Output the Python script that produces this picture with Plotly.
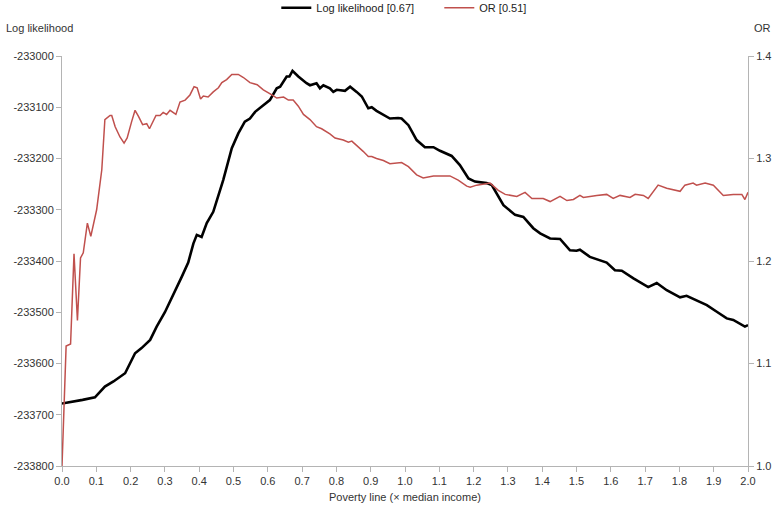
import plotly.graph_objects as go

# Log likelihood series (black)
ll_x = [0.0, 0.03, 0.06, 0.096, 0.125, 0.15, 0.184, 0.213, 0.232, 0.257,
        0.276, 0.3, 0.315, 0.334, 0.349, 0.368, 0.383, 0.393, 0.407, 0.422,
        0.441, 0.47, 0.495, 0.514, 0.533, 0.548, 0.563, 0.587, 0.606, 0.626,
        0.636, 0.655, 0.663, 0.672, 0.689, 0.713, 0.723, 0.742, 0.752, 0.762,
        0.781, 0.791, 0.801, 0.825, 0.84, 0.859, 0.874, 0.893, 0.903, 0.917,
        0.937, 0.956, 0.98, 0.99, 1.01, 1.034, 1.058, 1.083, 1.102, 1.136,
        1.16, 1.185, 1.204, 1.238, 1.253, 1.267, 1.287, 1.321, 1.345, 1.374,
        1.394, 1.423, 1.452, 1.481, 1.5, 1.51, 1.539, 1.588, 1.612, 1.632,
        1.666, 1.709, 1.734, 1.763, 1.802, 1.821, 1.85, 1.88, 1.909, 1.938,
        1.957, 1.982, 1.991, 2.0]
ll_y = [-233678, -233675, -233671, -233666, -233645, -233635, -233619, -233580, -233570, -233554,
        -233528, -233500, -233479, -233455, -233431, -233403, -233366, -233349, -233353, -233326,
        -233304, -233242, -233180, -233151, -233128, -233122, -233109, -233096, -233086, -233063,
        -233060, -233040, -233040, -233029, -233040, -233053, -233057, -233053, -233063, -233057,
        -233063, -233070, -233066, -233068, -233060, -233070, -233079, -233102, -233100, -233107,
        -233115, -233122, -233121, -233122, -233135, -233164, -233178, -233178, -233185, -233195,
        -233213, -233239, -233245, -233248, -233252, -233268, -233291, -233310, -233314, -233336,
        -233346, -233356, -233357, -233379, -233380, -233378, -233392, -233403, -233418, -233419,
        -233434, -233451, -233443, -233457, -233471, -233468, -233477, -233486, -233499, -233512,
        -233515, -233525, -233528, -233525]

# Odds ratio series (red)
or_x = [0.0, 0.012, 0.025, 0.035, 0.045, 0.054, 0.062, 0.074, 0.084, 0.101,
        0.116, 0.125, 0.14, 0.145, 0.155, 0.169, 0.181, 0.19, 0.203, 0.213,
        0.223, 0.235, 0.247, 0.255, 0.274, 0.286, 0.295, 0.305, 0.315, 0.332,
        0.344, 0.359, 0.373, 0.385, 0.394, 0.404, 0.412, 0.426, 0.441, 0.456,
        0.466, 0.48, 0.495, 0.504, 0.514, 0.529, 0.548, 0.569, 0.587, 0.612,
        0.626, 0.646, 0.66, 0.674, 0.689, 0.704, 0.723, 0.742, 0.757, 0.781,
        0.796, 0.82, 0.835, 0.845, 0.859, 0.878, 0.893, 0.903, 0.917, 0.937,
        0.956, 0.98, 0.99, 1.01, 1.034, 1.053, 1.083, 1.131, 1.155, 1.18,
        1.19, 1.209, 1.248, 1.272, 1.292, 1.326, 1.35, 1.37, 1.403, 1.423,
        1.452, 1.472, 1.491, 1.51, 1.52, 1.559, 1.588, 1.607, 1.627, 1.656,
        1.671, 1.695, 1.709, 1.738, 1.763, 1.802, 1.816, 1.84, 1.85, 1.875,
        1.899, 1.928, 1.957, 1.982, 1.991, 2.0]
or_y = [1.0, 1.117, 1.119, 1.207, 1.142, 1.203, 1.208, 1.237, 1.224, 1.250,
        1.289, 1.338, 1.342, 1.342, 1.331, 1.321, 1.315, 1.320, 1.336, 1.347,
        1.341, 1.333, 1.334, 1.329, 1.342, 1.342, 1.345, 1.343, 1.347, 1.343,
        1.355, 1.357, 1.362, 1.370, 1.369, 1.358, 1.361, 1.360, 1.365, 1.369,
        1.374, 1.377, 1.382, 1.382, 1.382, 1.379, 1.374, 1.372, 1.367, 1.362,
        1.359, 1.360, 1.357, 1.357, 1.351, 1.343, 1.338, 1.331, 1.329, 1.324,
        1.320, 1.318, 1.316, 1.317, 1.313, 1.307, 1.302, 1.302, 1.300, 1.298,
        1.295, 1.296, 1.296, 1.292, 1.284, 1.281, 1.283, 1.283, 1.279, 1.273,
        1.272, 1.274, 1.276, 1.269, 1.265, 1.263, 1.267, 1.261, 1.261, 1.258,
        1.263, 1.259, 1.260, 1.264, 1.262, 1.264, 1.265, 1.261, 1.264, 1.262,
        1.265, 1.264, 1.261, 1.274, 1.271, 1.268, 1.274, 1.276, 1.274, 1.276,
        1.274, 1.264, 1.265, 1.265, 1.260, 1.267]

x_ticks = [i / 10 for i in range(21)]
ll_ticks = [-233800, -233700, -233600, -233500, -233400, -233300, -233200, -233100, -233000]
ll_tick_text = ["-233800", "-233700", "-233600", "-233500", "-233400",
                "-233300", "-233200", "-233100", "-233000"]
or_ticks = [1.0, 1.1, 1.2, 1.3, 1.4]

FONT = "Liberation Sans, Arial, sans-serif"
AXIS_COL = "#B4B4B4"
TXT = "#333333"

fig = go.Figure()
fig.add_trace(go.Scatter(x=ll_x, y=ll_y, mode="lines", name="Log likelihood [0.67]",
                         line=dict(color="#000000", width=2.6), yaxis="y"))
fig.add_trace(go.Scatter(x=or_x, y=or_y, mode="lines", name="OR [0.51]",
                         line=dict(color="#C0504D", width=1.5), yaxis="y2"))

fig.update_layout(
    width=778, height=508,
    margin=dict(l=62, r=30, t=56, b=42, autoexpand=False),
    paper_bgcolor="white", plot_bgcolor="white",
    font=dict(family=FONT, size=11, color=TXT),
    showlegend=True,
    legend=dict(orientation="h", x=0.55, xanchor="center", y=1.153, yanchor="top",
                font=dict(size=11, color="#222"), bgcolor="rgba(0,0,0,0)",
                itemwidth=30, entrywidth=118, entrywidthmode="pixels"),
    xaxis=dict(range=[0, 2], tickvals=x_ticks, tickformat=".1f",
               showline=True, linecolor=AXIS_COL, linewidth=1,
               ticks="outside", ticklen=5, tickcolor=AXIS_COL,
               showgrid=False, zeroline=False, automargin=False),
    yaxis=dict(range=[-233800, -233000], tickvals=ll_ticks, ticktext=ll_tick_text,
               showline=True, linecolor=AXIS_COL, linewidth=1,
               ticks="outside", ticklen=5, tickcolor=AXIS_COL,
               showgrid=False, zeroline=False, automargin=False),
    yaxis2=dict(range=[1.0, 1.4], tickvals=or_ticks, tickformat=".1f",
                overlaying="y", side="right",
                showline=True, linecolor=AXIS_COL, linewidth=1,
                ticks="outside", ticklen=5, tickcolor=AXIS_COL,
                showgrid=False, zeroline=False, automargin=False),
    annotations=[
        dict(text="Log likelihood", xref="paper", yref="paper", x=0, y=1,
             xshift=-58, yshift=28, xanchor="left", yanchor="middle",
             showarrow=False, font=dict(size=11, color=TXT)),
        dict(text="OR", xref="paper", yref="paper", x=1, y=1,
             xshift=4, yshift=28, xanchor="left", yanchor="middle",
             showarrow=False, font=dict(size=11, color=TXT)),
        dict(text="Poverty line (× median income)", xref="paper", yref="paper",
             x=0.5, y=0, yshift=-31, xanchor="center", yanchor="middle",
             showarrow=False, font=dict(size=11, color=TXT)),
    ],
)

fig.write_html("out.html", config={"displayModeBar": False},
               post_script="document.body.style.margin='0px';document.body.style.overflow='hidden';")
